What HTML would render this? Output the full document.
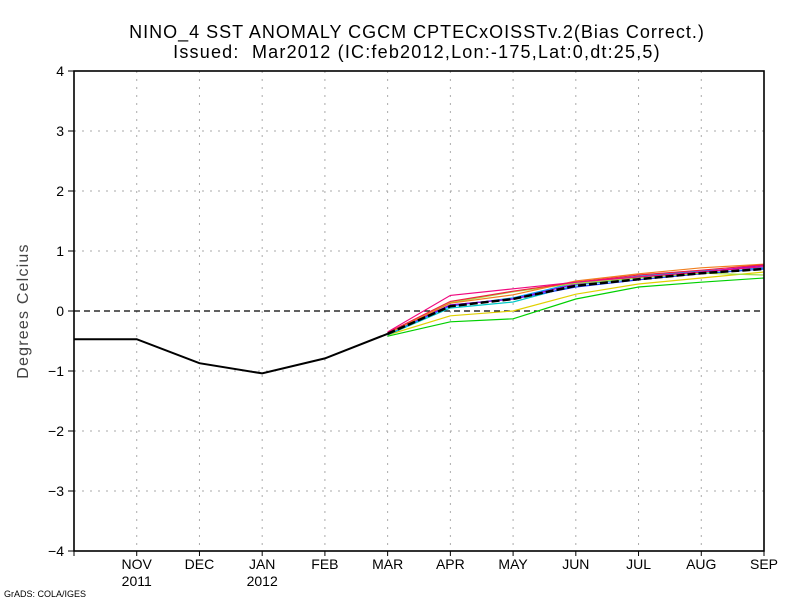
<!DOCTYPE html>
<html><head><meta charset="utf-8"><style>
body{margin:0;background:#fff;width:800px;height:600px;overflow:hidden}
svg{font-family:"Liberation Sans",sans-serif}
</style></head><body>
<svg id="chart" width="800" height="600">
<text x="417" y="38" font-size="18" letter-spacing="1" text-anchor="middle">NINO_4 SST ANOMALY CGCM CPTECxOISSTv.2(Bias Correct.)</text>
<text x="417" y="58" font-size="18" letter-spacing="1.2" text-anchor="middle" xml:space="preserve">Issued:  Mar2012 (IC:feb2012,Lon:-175,Lat:0,dt:25,5)</text>
<text transform="translate(28,311) rotate(-90)" font-size="16" letter-spacing="1.2" fill="#444" text-anchor="middle">Degrees Celcius</text>
<text x="4" y="597" font-size="9">GrADS: COLA/IGES</text>
<g id="grid"></g><g id="series"></g><g id="axes"></g>
</svg>
<script>
const months=["OCT","NOV","DEC","JAN","FEB","MAR","APR","MAY","JUN","JUL","AUG","SEP"];
const monthLabels=["","NOV","DEC","JAN","FEB","MAR","APR","MAY","JUN","JUL","AUG","SEP"];
const yearLabels=["","2011","","2012","","","","","","","",""];
const yTicks=[-4,-3,-2,-1,0,1,2,3,4];
const observed=[-0.47,-0.47,-0.87,-1.04,-0.79,-0.38];
const memberColors=["#00d000","#e0d000","#00c8c8","#00a0ff","#2040ff","#a000e0","#a0e040","#f08020","#f02040","#f0087f"];
const member1=[-0.42,-0.18,-0.13,0.2,0.4,0.48,0.55];
const member2=[-0.40,-0.08,0.0,0.28,0.45,0.55,0.65];
const member3=[-0.40,0.05,0.15,0.43,0.55,0.63,0.70];
const member4=[-0.39,0.08,0.22,0.47,0.58,0.67,0.72];
const member5=[-0.38,0.10,0.20,0.40,0.52,0.62,0.70];
const member6=[-0.37,0.10,0.20,0.45,0.56,0.65,0.76];
const member7=[-0.38,0.14,0.32,0.46,0.55,0.63,0.60];
const member8=[-0.37,0.13,0.27,0.50,0.62,0.72,0.78];
const member9=[-0.36,0.16,0.33,0.48,0.60,0.68,0.77];
const member10=[-0.35,0.26,0.37,0.48,0.57,0.65,0.74];
const ensembleMean=[-0.38,0.08,0.20,0.42,0.53,0.63,0.70];
const members=[member1,member2,member3,member4,member5,member6,member7,member8,member9,member10];
const X0=74,X1=764,Y0=551,Y1=71;
const xs=i=>X0+i*(X1-X0)/(months.length-1);
const ys=v=>Y0-(v+4)*(Y0-Y1)/8;
const NS="http://www.w3.org/2000/svg";
function mk(parent,tag,attrs){const e=document.createElementNS(NS,tag);for(const k in attrs)e.setAttribute(k,attrs[k]);document.getElementById(parent).appendChild(e);return e;}
months.forEach((m,i)=>{if(i>0&&i<months.length-1){const l=mk("grid","line",{x1:xs(i),x2:xs(i),y1:Y1,y2:Y0,stroke:"#aaa","stroke-dasharray":"2,6"});

}
if(monthLabels[i]){const t=mk("axes","text",{x:xs(i),y:569,"font-size":14,"text-anchor":"middle"});t.textContent=monthLabels[i];

}
if(yearLabels[i]){const t=mk("axes","text",{x:xs(i),y:586,"font-size":14,"text-anchor":"middle"});t.textContent=yearLabels[i];

}
const tk=mk("axes","line",{x1:xs(i),x2:xs(i),y1:Y0,y2:Y0+5,stroke:"#000"});

});
yTicks.forEach(v=>{if(v!==-4&&v!==4&&v!==0){const l=mk("grid","line",{x1:X0,x2:X1,y1:ys(v),y2:ys(v),stroke:"#aaa","stroke-dasharray":"2,6"});

}
const t=mk("axes","text",{x:X0-10,y:ys(v)+5,"font-size":14,"text-anchor":"end"});t.textContent=v<0?"\u2212"+(-v):v;


const tk=mk("axes","line",{x1:X0-6,x2:X0,y1:ys(v),y2:ys(v),stroke:"#000"});

});
const z=mk("grid","line",{x1:X0,x2:X1,y1:ys(0),y2:ys(0),stroke:"#000","stroke-width":1.3,"stroke-dasharray":"6,4"});


const pts=(arr,off)=>arr.map((v,i)=>xs(i+off)+","+ys(v)).join(" ");
members.forEach((m,k)=>{const p=mk("series","polyline",{points:pts(m,5),fill:"none",stroke:memberColors[k],"stroke-width":1.2});

});
const em=mk("series","polyline",{points:pts(ensembleMean,5),fill:"none",stroke:"#000","stroke-width":2.5,"stroke-dasharray":"8,3"});


const ob=mk("series","polyline",{points:pts(observed,0),fill:"none",stroke:"#000","stroke-width":2});


const fr=mk("axes","rect",{x:X0,y:Y1,width:X1-X0,height:Y0-Y1,fill:"none",stroke:"#000","stroke-width":1.6});


</script>
</body></html>
